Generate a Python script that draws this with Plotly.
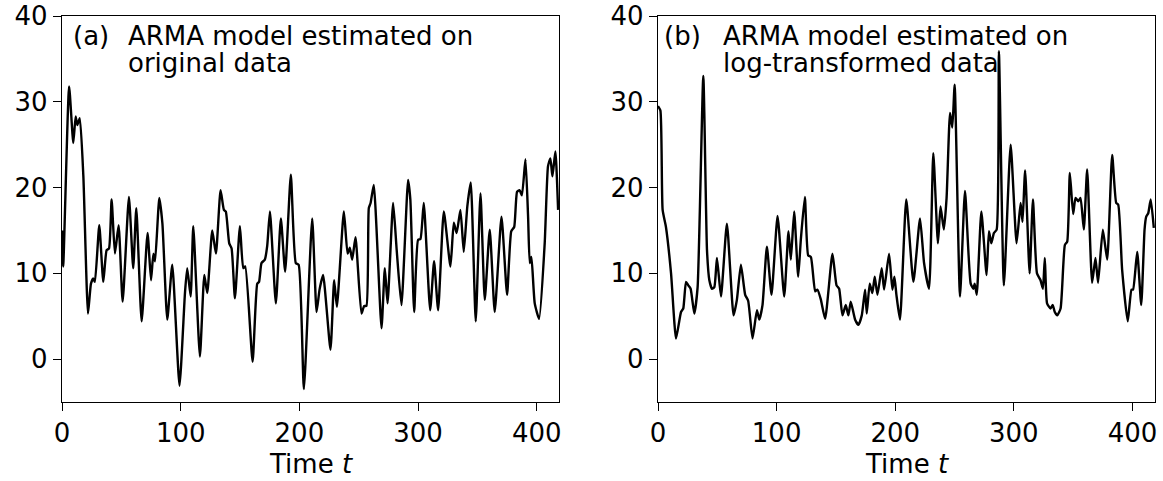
import plotly.graph_objects as go

# Panel (a): ARMA model estimated on original data
t_a = [0, 1, 6, 9.5, 11.5, 12.9, 15, 18, 21.9, 24.4, 26.3, 27.7, 31.4, 34.8, 37.6, 39.6, 41.8, 44.6,
       47.7, 51.1, 56.4, 60, 62.6, 67.1, 72.1, 75, 77, 78.4, 82, 84.6, 88.7, 92.9, 99, 103.6, 105.5,
       108.4, 110.6, 116.2, 119.9, 122.4, 126.6, 129.7, 133.6, 136.4, 138, 140.9, 142.9, 145.7, 149.9,
       152.7, 154.4, 160.6, 164.5, 166, 168.1, 170.9, 172.9, 175.2, 180.2, 184.4, 188, 192.8, 197,
       199.4, 203.8, 210.8, 214.5, 217, 220, 226.2, 229.3, 231.6, 237.5, 240.6, 242.5, 244.5, 247.3,
       252.3, 254.6, 256.5, 258.5, 260, 262.7, 269.2, 272, 274.3, 279, 282, 286, 291.6, 293.5, 296.7,
       300, 302, 304.8, 310.2, 313.5, 316.9, 321.7, 327.3, 330.1, 332.5, 335.7, 338.5, 341.5, 344.4,
       348.6, 352.6, 356.2, 360.4, 364.6, 370.3, 375, 378.5, 381, 383.4, 385.5, 387.5, 390.5, 392.7,
       394.1, 395.5, 398.3, 402, 406.7, 409.5, 411.5, 413.2, 415.7, 418]
y_a = [15.0, 10.8, 31.8, 25.2, 28.3, 27.3, 28.1, 21.3, 5.3, 8.8, 9.4, 9.0, 15.6, 9.0, 12.7, 12.9, 18.6, 12.3,
       15.6, 6.7, 18.9, 10.6, 17.6, 4.4, 14.7, 9.2, 12.3, 11.4, 18.8, 15.8, 4.6, 11.0, -3.1, 7.7, 10.6,
       7.3, 15.5, 0.3, 9.8, 7.7, 15.0, 12.3, 19.7, 17.4, 17.2, 13.5, 12.9, 7.1, 15.5,
       10.6, 10.8, -0.3, 8.8, 9.0, 11.2, 11.6, 13.2, 17.2, 6.5, 16.4, 10.2, 21.5, 11.2,
       11.0, -3.5, 16.4, 5.5, 8.1, 9.8, 1.1, 9.2, 6.1, 17.2, 12.3, 13.0, 11.6, 14.2,
       5.3, 6.2, 6.2, 17.6, 18.2, 20.3, 3.6, 10.6, 6.5, 18.2, 12.7, 6.3, 20.9, 18.6, 5.5,
       13.9, 14.0, 18.2, 5.7, 11.4, 5.7, 17.2, 10.8, 15.9, 14.7, 17.4, 12.5, 17.8, 20.6,
       4.4, 19.3, 6.9, 15.1, 5.5, 16.6, 7.5, 14.9, 15.4, 19.5, 19.7, 19.1, 23.3, 16.6,
       11.2, 11.9, 6.5, 4.7, 13.5, 22.5, 23.4, 21.3, 24.2, 17.4]

# Panel (b): ARMA model estimated on log-transformed data
t_b = [0, 2, 3.9, 6.7, 11, 15.2, 19.4, 21.3, 23.6, 25.5, 27.5, 30.6, 33.4, 38.2, 41.3, 43.3, 45.5, 47.5,
       49.7, 53.1, 58.1, 63.7, 66.5, 69.9, 73.5, 76, 79.7, 83.4, 85.4, 88.1, 91.8, 95.7, 100.8, 106.4,
       110, 112, 114.8, 118.2, 120.4, 123.8, 126.6, 128.9, 132.5, 134.4, 137.2, 140.9, 147.1, 150.5,
       152.7, 155.5, 158.3, 160.5, 162.5, 166.2, 169, 171.8, 174.6, 176, 178.5, 180.7, 182.7, 185,
       188.6, 190.6, 194.8, 197.6, 199.3, 201, 204, 209.3, 215.3, 220.9, 224.3, 228.5, 232.1, 236,
       238.2, 241, 243.3, 246.2, 248.1, 250.1, 254.6, 258.8, 263.6, 265.9, 267, 268.7, 272.6, 277,
       279, 281, 283.2, 285.5, 287.4, 291.6, 297.3, 302.3, 305.7, 307.3, 309.5, 313.3, 316.1, 319.5,
       322.5, 324.5, 326.1, 328, 330.9, 332.8, 334.5, 336.6, 339.4, 343, 345, 347.2, 350, 352, 354.3,
       356.2, 359, 361.8, 366, 368.8, 371, 375, 378.7, 382.9, 386.3, 388, 391.3, 396, 399.2, 400.5,
       404, 407.4, 410.2, 411.6, 413.3, 415.4, 418]
y_b = [29.5, 29.0, 17.4, 15.4, 10.0, 2.4, 5.5, 5.9, 9.0, 8.6, 8.2, 5.3, 8.4, 33.0, 12.7, 9.2, 8.2, 8.4,
       11.8, 7.3, 15.8, 5.1, 6.9, 11.0, 7.5, 6.8, 2.4, 5.7, 4.6, 6.3, 13.1, 7.5, 16.7, 7.3,
       14.9, 11.6, 17.2, 9.6, 13.9, 18.9, 12.1, 11.9, 7.9, 8.1, 7.0, 4.7, 12.3, 8.6,
       8.2, 5.1, 6.3, 5.1, 6.7, 4.6, 4.0, 5.1, 8.1, 5.3, 8.8, 7.7, 9.6, 7.5,
       10.6, 8.1, 12.3, 8.1, 9.6, 7.5, 4.6, 18.6, 9.0, 16.4, 11.2, 8.2, 24.0, 13.5,
       17.8, 15.1, 18.8, 28.7, 27.0, 32.0, 7.3, 19.6, 8.8, 8.2, 8.8, 7.5, 17.2, 9.8,
       14.9, 13.5, 14.7, 15.1, 35.9, 8.6, 25.0, 13.5, 18.2, 16.0, 22.0, 10.0, 18.6, 10.0,
       9.2, 8.2, 11.8, 6.5, 5.9, 6.3, 5.5, 5.1, 5.9, 13.3, 13.7, 21.7, 16.9, 18.8, 18.4,
       18.8, 15.1, 22.1, 8.9, 11.8, 8.9, 15.1, 11.6, 23.8, 18.2, 18.0, 10.4, 4.4, 8.1, 8.1,
       12.5, 6.3, 15.1, 16.6, 17.0, 18.6, 15.3]

x_ticks = [0, 100, 200, 300, 400]
y_ticks = [0, 10, 20, 30, 40]
x_title = "Time <i>t</i>"
labels = ["(a)", "(b)"]
line1 = "ARMA model estimated on"
line2 = ["original data", "log-transformed data"]

W, H = 1163, 481
FONT = "DejaVu Sans"
FS = 26


def px(x):
    return x / W


def py(y):
    return 1 - y / H


fig = go.Figure()
for tt, yy, xa, ya in [(t_a, y_a, "x", "y"), (t_b, y_b, "x2", "y2")]:
    fig.add_trace(go.Scatter(x=tt, y=yy, mode="lines",
                             line=dict(color="black", width=2.4, shape="spline", smoothing=0.5),
                             xaxis=xa, yaxis=ya, showlegend=False, cliponaxis=True))

ax_common = dict(showline=True, linecolor="black", linewidth=1.3, mirror=True,
                 ticks="outside", ticklen=8, tickwidth=1.3, tickcolor="black",
                 showgrid=False, zeroline=False, automargin=False,
                 tickfont=dict(family=FONT, size=FS, color="black"))

x_dom = [[px(62), px(559.3)], [px(658), px(1155)]]
y_dom = [py(402), py(16)]

fig.update_layout(
    width=W, height=H,
    margin=dict(l=0, r=0, t=0, b=0),
    paper_bgcolor="white", plot_bgcolor="white",
    font=dict(family=FONT, size=FS, color="black"),
    xaxis=dict(domain=x_dom[0], range=[0, 419], tickvals=x_ticks, anchor="y", **ax_common),
    yaxis=dict(domain=y_dom, range=[-5, 40], tickvals=y_ticks, anchor="x", **ax_common),
    xaxis2=dict(domain=x_dom[1], range=[0, 419], tickvals=x_ticks, anchor="y2", **ax_common),
    yaxis2=dict(domain=y_dom, range=[-5, 40], tickvals=y_ticks, anchor="x2", **ax_common),
)

anns = []
lab_x = [71, 662]
txt_x = [126, 721]
for i in range(2):
    anns.append(dict(text=labels[i], x=px(lab_x[i]), y=py(36), xref="paper", yref="paper",
                     xanchor="left", yanchor="middle", showarrow=False,
                     font=dict(family=FONT, size=FS, color="black")))
    anns.append(dict(text=line1, x=px(txt_x[i]), y=py(36), xref="paper", yref="paper",
                     xanchor="left", yanchor="middle", showarrow=False,
                     font=dict(family=FONT, size=FS, color="black")))
    anns.append(dict(text=line2[i], x=px(txt_x[i]), y=py(63), xref="paper", yref="paper",
                     xanchor="left", yanchor="middle", showarrow=False,
                     font=dict(family=FONT, size=FS, color="black")))
    cx = (x_dom[i][0] + x_dom[i][1]) / 2
    anns.append(dict(text=x_title, x=cx, y=0, xref="paper", yref="paper",
                     xanchor="center", yanchor="bottom", showarrow=False,
                     font=dict(family=FONT, size=FS, color="black")))
fig.update_layout(annotations=anns)

fig.write_html("out.html", config={"displayModeBar": False},
               post_script="document.body.style.margin='0';document.body.style.overflow='hidden';")
